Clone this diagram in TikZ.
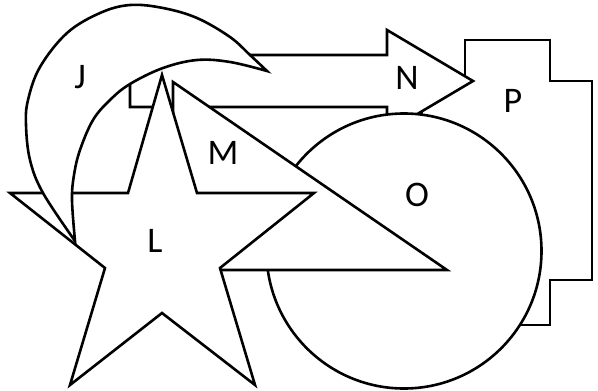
\documentclass[tikz,border=0pt]{standalone}
\usepackage{fontspec}
\setmainfont{Carlito}
\begin{document}
\begin{tikzpicture}[x=1pt,y=-1pt,
  blk/.style={draw=black, fill=white, line width=2.6pt},
  lbl/.style={font=\fontsize{36}{36}\selectfont, inner sep=0pt, anchor=base}]
\useasboundingbox (0,0) rectangle (598,391);
% P
\draw[blk] (465,40) -- (550,40) -- (550,81) -- (592,81) -- (592,280) -- (550,280)
  -- (550,325) -- (465,325) -- (465,280) -- (422,280) -- (422,81) -- (465,81) -- cycle;
% N arrow
\draw[blk] (130,55) -- (387,55) -- (387,30) -- (473,81) -- (387,132) -- (387,107) -- (130,107) -- cycle;
% O circle
\draw[blk] (404,251) circle[radius=137.5];
% M triangle
\draw[blk] (173,82) -- (447,270) -- (173,270) -- cycle;
% L star
\draw[blk] (162,75) -- (197,193) -- (314,193) -- (220,268) -- (255,385) -- (162,313)
  -- (70,385) -- (105,268) -- (10,193) -- (128,193) -- cycle;
% J moon
\draw[blk] plot[smooth, tension=0.6] coordinates {(267,71) (250,55) (230,37) (197,18) (163,8) (130,5) (100,13) (67,33) (40,67) (28,100) (26,125) (30,160) (43,193) (75,241)}
  -- plot[smooth, tension=0.6] coordinates {(75,241) (72,200) (74,175) (80,150) (93,120) (110,100) (130,84) (163,68) (197,60) (230,62) (267,71)} -- cycle;
% labels
\node[lbl] (J) at (80,88) {J};
\node[lbl] (L) at (155,252) {L};
\node[lbl] (M) at (223,164) {M};
\node[lbl] (N) at (407,89) {N};
\node[lbl] (O) at (417,206) {O};
\node[lbl] (P) at (513,112) {P};
\end{tikzpicture}
\end{document}
